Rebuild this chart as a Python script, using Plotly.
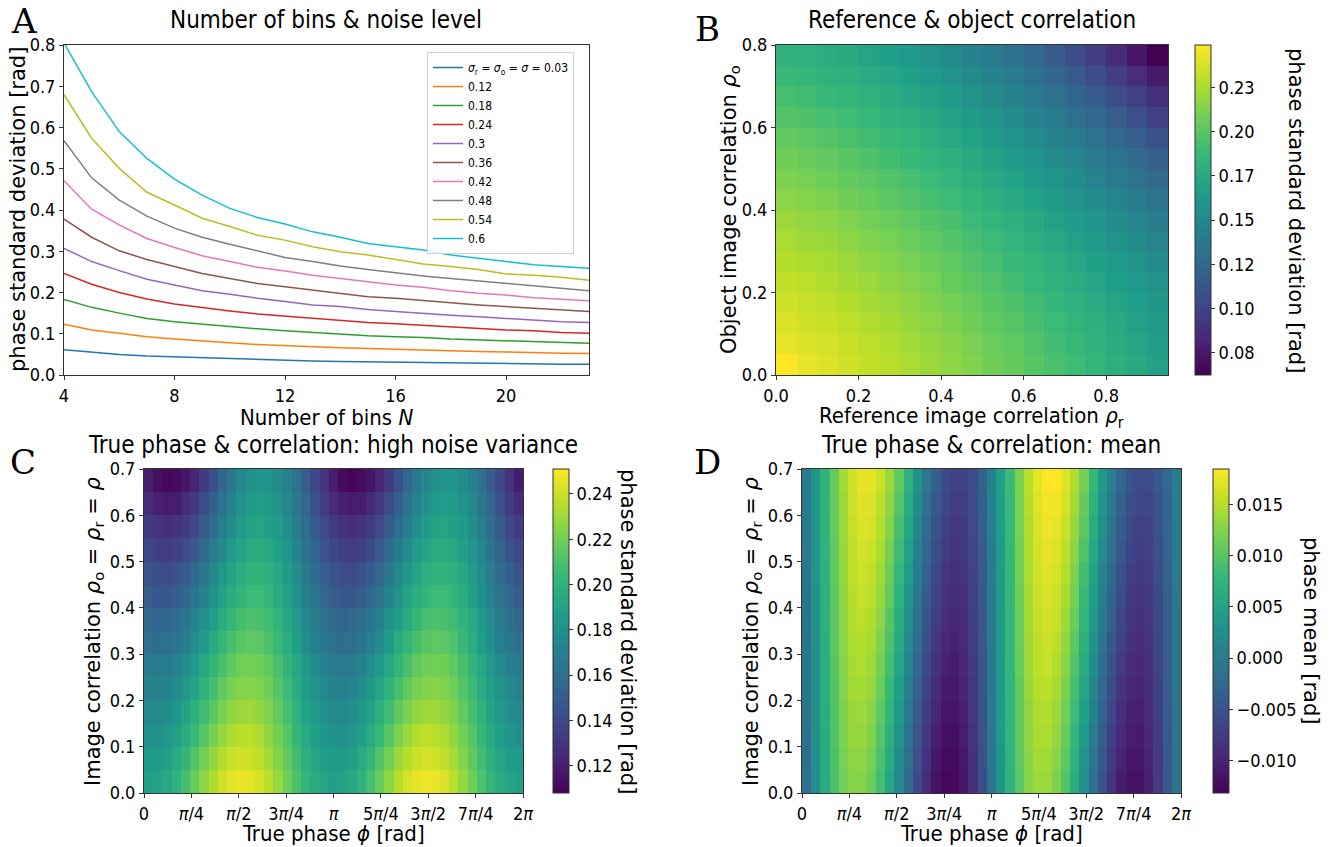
import math
import plotly.graph_objects as go

W, H = 1341, 847
FONT = "DejaVu Sans"
FONT_NARROW = "DejaVu Sans Condensed, DejaVu Sans"
AXIS_COLOR = "#333333"
TICK_SIZE = 18

# ---------------- Panel A: phase std vs number of bins ----------------
bins_n = [4, 5, 6, 7, 8, 9, 10, 11, 12, 13, 14, 15, 16, 17, 18, 19, 20, 21, 22, 23]
noise_labels = ["<i>σ</i><sub>r</sub> = <i>σ</i><sub>o</sub> = <i>σ</i> = 0.03",
                "0.12", "0.18", "0.24", "0.3", "0.36", "0.42", "0.48", "0.54", "0.6"]
std_sigma_003 = [0.061, 0.055, 0.050, 0.046, 0.044, 0.041, 0.039, 0.037, 0.036, 0.034,
                 0.033, 0.032, 0.031, 0.030, 0.029, 0.028, 0.0275, 0.027, 0.026, 0.026]
std_sigma_012 = [0.123, 0.109, 0.101, 0.093, 0.087, 0.082, 0.078, 0.074, 0.071, 0.069,
                 0.066, 0.064, 0.062, 0.061, 0.058, 0.057, 0.056, 0.054, 0.053, 0.052]
std_sigma_018 = [0.183, 0.164, 0.150, 0.137, 0.129, 0.123, 0.117, 0.112, 0.107, 0.103,
                 0.099, 0.095, 0.093, 0.091, 0.087, 0.085, 0.083, 0.081, 0.079, 0.077]
std_sigma_024 = [0.246, 0.220, 0.200, 0.184, 0.172, 0.163, 0.155, 0.148, 0.143, 0.137,
                 0.133, 0.127, 0.124, 0.120, 0.116, 0.112, 0.109, 0.107, 0.103, 0.101]
std_sigma_030 = [0.307, 0.275, 0.253, 0.232, 0.218, 0.204, 0.196, 0.186, 0.178, 0.170,
                 0.166, 0.159, 0.154, 0.149, 0.145, 0.141, 0.137, 0.133, 0.129, 0.127]
std_sigma_036 = [0.378, 0.334, 0.301, 0.280, 0.263, 0.246, 0.234, 0.222, 0.214, 0.206,
                 0.198, 0.190, 0.186, 0.180, 0.175, 0.170, 0.166, 0.162, 0.158, 0.154]
std_sigma_042 = [0.471, 0.402, 0.364, 0.331, 0.309, 0.289, 0.275, 0.261, 0.252, 0.242,
                 0.234, 0.226, 0.218, 0.213, 0.204, 0.198, 0.194, 0.187, 0.183, 0.180]
std_sigma_048 = [0.568, 0.478, 0.424, 0.385, 0.356, 0.334, 0.317, 0.301, 0.285, 0.275,
                 0.264, 0.256, 0.248, 0.240, 0.234, 0.228, 0.222, 0.217, 0.210, 0.204]
std_sigma_054 = [0.680, 0.574, 0.501, 0.443, 0.412, 0.380, 0.360, 0.339, 0.327, 0.311,
                 0.299, 0.291, 0.280, 0.269, 0.263, 0.256, 0.245, 0.242, 0.237, 0.230]
std_sigma_060 = [0.805, 0.687, 0.590, 0.525, 0.475, 0.436, 0.404, 0.382, 0.366, 0.347,
                 0.334, 0.319, 0.311, 0.303, 0.291, 0.283, 0.275, 0.267, 0.263, 0.259]
std_curves = [std_sigma_003, std_sigma_012, std_sigma_018, std_sigma_024, std_sigma_030,
              std_sigma_036, std_sigma_042, std_sigma_048, std_sigma_054, std_sigma_060]
line_colors = ["#1f77b4", "#ff7f0e", "#2ca02c", "#d62728", "#9467bd",
               "#8c564b", "#e377c2", "#7f7f7f", "#bcbd22", "#17becf"]

# ---------------- Panel B: reference vs object correlation ----------------
rho_r = [0.025, 0.075, 0.125, 0.175, 0.225, 0.275, 0.325, 0.375, 0.425, 0.475,
         0.525, 0.575, 0.625, 0.675, 0.725, 0.775, 0.825, 0.875, 0.925]
rho_o = [0.025, 0.075, 0.125, 0.175, 0.225, 0.275, 0.325, 0.375,
         0.425, 0.475, 0.525, 0.575, 0.625, 0.675, 0.725, 0.775]
std_ref_obj = [
    [0.249, 0.243, 0.239, 0.236, 0.232, 0.229, 0.225, 0.221, 0.217, 0.213, 0.208, 0.204, 0.199, 0.195, 0.190, 0.185, 0.180, 0.175, 0.169],
    [0.243, 0.239, 0.237, 0.234, 0.230, 0.227, 0.223, 0.219, 0.215, 0.211, 0.206, 0.202, 0.197, 0.192, 0.188, 0.183, 0.177, 0.172, 0.167],
    [0.239, 0.236, 0.234, 0.231, 0.227, 0.224, 0.220, 0.216, 0.212, 0.208, 0.203, 0.199, 0.194, 0.189, 0.185, 0.180, 0.175, 0.169, 0.164],
    [0.236, 0.233, 0.231, 0.228, 0.224, 0.221, 0.217, 0.213, 0.209, 0.205, 0.200, 0.196, 0.191, 0.186, 0.181, 0.176, 0.171, 0.166, 0.161],
    [0.232, 0.230, 0.227, 0.224, 0.221, 0.217, 0.214, 0.210, 0.205, 0.201, 0.197, 0.192, 0.187, 0.183, 0.178, 0.173, 0.167, 0.162, 0.157],
    [0.228, 0.226, 0.224, 0.221, 0.217, 0.214, 0.210, 0.206, 0.202, 0.197, 0.193, 0.188, 0.184, 0.179, 0.174, 0.168, 0.163, 0.158, 0.152],
    [0.225, 0.222, 0.220, 0.217, 0.213, 0.210, 0.206, 0.202, 0.198, 0.193, 0.189, 0.184, 0.179, 0.174, 0.169, 0.164, 0.158, 0.153, 0.147],
    [0.221, 0.218, 0.216, 0.213, 0.209, 0.206, 0.202, 0.198, 0.194, 0.189, 0.184, 0.180, 0.175, 0.169, 0.164, 0.159, 0.153, 0.147, 0.141],
    [0.216, 0.214, 0.211, 0.208, 0.205, 0.201, 0.197, 0.193, 0.189, 0.185, 0.180, 0.175, 0.170, 0.164, 0.159, 0.153, 0.147, 0.141, 0.134],
    [0.212, 0.210, 0.207, 0.204, 0.201, 0.197, 0.193, 0.189, 0.184, 0.180, 0.175, 0.170, 0.164, 0.159, 0.153, 0.147, 0.140, 0.134, 0.127],
    [0.208, 0.205, 0.203, 0.200, 0.196, 0.192, 0.188, 0.184, 0.180, 0.175, 0.170, 0.164, 0.159, 0.153, 0.147, 0.140, 0.133, 0.126, 0.119],
    [0.203, 0.201, 0.198, 0.195, 0.191, 0.188, 0.184, 0.179, 0.174, 0.170, 0.164, 0.159, 0.153, 0.146, 0.140, 0.133, 0.125, 0.118, 0.109],
    [0.198, 0.196, 0.193, 0.190, 0.187, 0.183, 0.179, 0.174, 0.169, 0.164, 0.159, 0.153, 0.146, 0.140, 0.132, 0.125, 0.117, 0.108, 0.099],
    [0.193, 0.191, 0.188, 0.185, 0.182, 0.178, 0.173, 0.169, 0.164, 0.158, 0.152, 0.146, 0.139, 0.132, 0.124, 0.116, 0.107, 0.098, 0.088],
    [0.188, 0.186, 0.183, 0.180, 0.177, 0.173, 0.168, 0.163, 0.158, 0.152, 0.146, 0.140, 0.132, 0.124, 0.116, 0.107, 0.097, 0.087, 0.076],
    [0.183, 0.181, 0.178, 0.175, 0.171, 0.167, 0.163, 0.158, 0.152, 0.146, 0.140, 0.132, 0.125, 0.116, 0.107, 0.097, 0.086, 0.074, 0.062],
]

# ---------------- Panels C and D: true phase vs correlation ----------------
rho_rows = [0.025, 0.075, 0.125, 0.175, 0.225, 0.275, 0.325,
            0.375, 0.425, 0.475, 0.525, 0.575, 0.625, 0.675]
phase_ticks = ["0", "<i>π</i>/4", "<i>π</i>/2", "3<i>π</i>/4", "<i>π</i>",
               "5<i>π</i>/4", "3<i>π</i>/2", "7<i>π</i>/4", "2<i>π</i>"]

std_phase_rho = [
    [0.189, 0.190, 0.194, 0.200, 0.208, 0.217, 0.226, 0.234, 0.241, 0.245, 0.247, 0.246, 0.242, 0.236, 0.228, 0.219, 0.210, 0.202, 0.195, 0.191,
     0.189, 0.190, 0.194, 0.200, 0.208, 0.217, 0.226, 0.235, 0.242, 0.246, 0.248, 0.247, 0.243, 0.236, 0.228, 0.219, 0.210, 0.202, 0.195, 0.191, 0.189],
    [0.185, 0.186, 0.189, 0.195, 0.202, 0.211, 0.220, 0.228, 0.234, 0.239, 0.241, 0.240, 0.237, 0.231, 0.224, 0.215, 0.207, 0.198, 0.192, 0.187,
     0.185, 0.186, 0.189, 0.195, 0.202, 0.211, 0.220, 0.229, 0.235, 0.240, 0.242, 0.241, 0.237, 0.231, 0.224, 0.215, 0.207, 0.198, 0.192, 0.187, 0.185],
    [0.180, 0.180, 0.183, 0.189, 0.196, 0.204, 0.213, 0.221, 0.228, 0.233, 0.236, 0.236, 0.233, 0.227, 0.220, 0.212, 0.203, 0.195, 0.188, 0.183,
     0.180, 0.180, 0.183, 0.189, 0.196, 0.204, 0.213, 0.222, 0.229, 0.234, 0.237, 0.236, 0.233, 0.227, 0.220, 0.212, 0.203, 0.195, 0.188, 0.183, 0.180],
    [0.176, 0.176, 0.179, 0.183, 0.190, 0.198, 0.206, 0.214, 0.221, 0.227, 0.229, 0.230, 0.227, 0.223, 0.216, 0.208, 0.200, 0.191, 0.184, 0.179,
     0.176, 0.176, 0.179, 0.183, 0.190, 0.198, 0.206, 0.215, 0.222, 0.227, 0.230, 0.230, 0.227, 0.223, 0.216, 0.208, 0.200, 0.191, 0.184, 0.179, 0.176],
    [0.172, 0.171, 0.173, 0.177, 0.184, 0.192, 0.200, 0.208, 0.215, 0.221, 0.224, 0.225, 0.223, 0.219, 0.212, 0.205, 0.196, 0.188, 0.181, 0.175,
     0.172, 0.171, 0.173, 0.177, 0.184, 0.192, 0.200, 0.208, 0.216, 0.221, 0.224, 0.225, 0.223, 0.219, 0.212, 0.205, 0.196, 0.188, 0.181, 0.175, 0.172],
    [0.167, 0.166, 0.167, 0.171, 0.178, 0.185, 0.194, 0.202, 0.209, 0.215, 0.219, 0.220, 0.219, 0.215, 0.209, 0.201, 0.193, 0.184, 0.177, 0.171,
     0.167, 0.166, 0.167, 0.171, 0.178, 0.185, 0.194, 0.202, 0.209, 0.215, 0.219, 0.220, 0.219, 0.215, 0.209, 0.201, 0.193, 0.184, 0.177, 0.171, 0.167],
    [0.161, 0.159, 0.160, 0.164, 0.170, 0.177, 0.186, 0.195, 0.203, 0.209, 0.213, 0.215, 0.214, 0.210, 0.204, 0.197, 0.188, 0.179, 0.171, 0.165,
     0.161, 0.159, 0.160, 0.164, 0.170, 0.177, 0.186, 0.195, 0.203, 0.209, 0.213, 0.215, 0.214, 0.210, 0.204, 0.197, 0.188, 0.179, 0.171, 0.165, 0.161],
    [0.156, 0.154, 0.155, 0.158, 0.164, 0.171, 0.180, 0.188, 0.196, 0.203, 0.208, 0.210, 0.209, 0.206, 0.201, 0.193, 0.185, 0.176, 0.168, 0.161,
     0.156, 0.154, 0.155, 0.158, 0.164, 0.171, 0.180, 0.188, 0.196, 0.203, 0.208, 0.210, 0.209, 0.206, 0.201, 0.193, 0.185, 0.176, 0.168, 0.161, 0.156],
    [0.150, 0.147, 0.147, 0.150, 0.156, 0.163, 0.172, 0.181, 0.190, 0.197, 0.202, 0.205, 0.205, 0.202, 0.196, 0.189, 0.180, 0.171, 0.163, 0.155,
     0.150, 0.147, 0.147, 0.150, 0.156, 0.163, 0.172, 0.181, 0.190, 0.197, 0.202, 0.205, 0.205, 0.202, 0.196, 0.189, 0.180, 0.171, 0.163, 0.155, 0.150],
    [0.145, 0.142, 0.141, 0.144, 0.149, 0.156, 0.165, 0.175, 0.184, 0.191, 0.197, 0.200, 0.201, 0.198, 0.193, 0.186, 0.177, 0.168, 0.159, 0.151,
     0.145, 0.142, 0.141, 0.144, 0.149, 0.156, 0.165, 0.175, 0.184, 0.191, 0.197, 0.200, 0.201, 0.198, 0.193, 0.186, 0.177, 0.168, 0.159, 0.151, 0.145],
    [0.139, 0.135, 0.134, 0.136, 0.141, 0.148, 0.157, 0.167, 0.176, 0.185, 0.191, 0.195, 0.196, 0.194, 0.189, 0.182, 0.173, 0.163, 0.154, 0.145,
     0.139, 0.135, 0.134, 0.136, 0.141, 0.148, 0.157, 0.167, 0.176, 0.185, 0.191, 0.195, 0.196, 0.194, 0.189, 0.182, 0.173, 0.163, 0.154, 0.145, 0.139],
    [0.133, 0.129, 0.127, 0.129, 0.133, 0.140, 0.149, 0.159, 0.169, 0.178, 0.185, 0.190, 0.191, 0.189, 0.185, 0.178, 0.169, 0.159, 0.149, 0.140,
     0.133, 0.129, 0.127, 0.129, 0.133, 0.140, 0.149, 0.159, 0.169, 0.178, 0.185, 0.190, 0.191, 0.189, 0.185, 0.178, 0.169, 0.159, 0.149, 0.140, 0.133],
    [0.126, 0.121, 0.119, 0.120, 0.125, 0.132, 0.141, 0.151, 0.162, 0.172, 0.180, 0.185, 0.187, 0.186, 0.181, 0.174, 0.165, 0.155, 0.144, 0.134,
     0.126, 0.121, 0.119, 0.120, 0.125, 0.132, 0.141, 0.151, 0.162, 0.172, 0.180, 0.185, 0.187, 0.186, 0.181, 0.174, 0.165, 0.155, 0.144, 0.134, 0.126],
    [0.120, 0.114, 0.111, 0.112, 0.116, 0.123, 0.133, 0.143, 0.155, 0.165, 0.174, 0.180, 0.183, 0.182, 0.178, 0.171, 0.162, 0.150, 0.139, 0.129,
     0.120, 0.113, 0.110, 0.112, 0.116, 0.123, 0.133, 0.143, 0.155, 0.165, 0.174, 0.180, 0.183, 0.182, 0.178, 0.171, 0.162, 0.150, 0.139, 0.129, 0.120],
]

mean_phase_rho = [
    [-0.0016, 0.0024, 0.0062, 0.0093, 0.0116, 0.0127, 0.0126, 0.0112, 0.0088, 0.0055, 0.0016, -0.0024, -0.0062, -0.0093, -0.0116, -0.0127, -0.0126, -0.0112, -0.0088, -0.0055,
     -0.0006, 0.0034, 0.0072, 0.0103, 0.0126, 0.0137, 0.0136, 0.0122, 0.0098, 0.0065, 0.0026, -0.0014, -0.0052, -0.0083, -0.0106, -0.0117, -0.0116, -0.0102, -0.0078, -0.0045, -0.0011],
    [-0.0015, 0.0025, 0.0063, 0.0095, 0.0118, 0.0131, 0.0130, 0.0118, 0.0094, 0.0061, 0.0023, -0.0017, -0.0055, -0.0087, -0.0110, -0.0123, -0.0122, -0.0110, -0.0086, -0.0053,
     -0.0005, 0.0035, 0.0073, 0.0105, 0.0128, 0.0141, 0.0140, 0.0128, 0.0104, 0.0071, 0.0033, -0.0007, -0.0045, -0.0077, -0.0100, -0.0113, -0.0112, -0.0100, -0.0076, -0.0043, -0.0010],
    [-0.0014, 0.0026, 0.0064, 0.0097, 0.0121, 0.0134, 0.0135, 0.0123, 0.0100, 0.0068, 0.0030, -0.0010, -0.0048, -0.0081, -0.0105, -0.0118, -0.0119, -0.0107, -0.0084, -0.0052,
     -0.0004, 0.0036, 0.0074, 0.0107, 0.0131, 0.0144, 0.0145, 0.0133, 0.0110, 0.0078, 0.0040, 0.0000, -0.0038, -0.0071, -0.0095, -0.0108, -0.0109, -0.0097, -0.0074, -0.0042, -0.0009],
    [-0.0013, 0.0026, 0.0065, 0.0098, 0.0122, 0.0136, 0.0138, 0.0128, 0.0106, 0.0075, 0.0037, -0.0002, -0.0041, -0.0074, -0.0098, -0.0112, -0.0114, -0.0104, -0.0082, -0.0051,
     -0.0003, 0.0036, 0.0075, 0.0108, 0.0132, 0.0146, 0.0148, 0.0138, 0.0116, 0.0085, 0.0047, 0.0008, -0.0031, -0.0064, -0.0088, -0.0102, -0.0104, -0.0094, -0.0072, -0.0041, -0.0008],
    [-0.0012, 0.0027, 0.0066, 0.0099, 0.0125, 0.0140, 0.0142, 0.0133, 0.0112, 0.0081, 0.0044, 0.0005, -0.0034, -0.0067, -0.0093, -0.0108, -0.0110, -0.0101, -0.0080, -0.0049,
     -0.0002, 0.0037, 0.0076, 0.0109, 0.0135, 0.0150, 0.0152, 0.0143, 0.0122, 0.0091, 0.0054, 0.0015, -0.0024, -0.0057, -0.0083, -0.0098, -0.0100, -0.0091, -0.0070, -0.0039, -0.0007],
    [-0.0012, 0.0028, 0.0067, 0.0101, 0.0127, 0.0143, 0.0147, 0.0138, 0.0118, 0.0088, 0.0052, 0.0012, -0.0027, -0.0061, -0.0087, -0.0103, -0.0107, -0.0098, -0.0078, -0.0048,
     -0.0002, 0.0038, 0.0077, 0.0111, 0.0137, 0.0153, 0.0157, 0.0148, 0.0128, 0.0098, 0.0062, 0.0022, -0.0017, -0.0051, -0.0077, -0.0093, -0.0097, -0.0088, -0.0068, -0.0038, -0.0007],
    [-0.0010, 0.0029, 0.0067, 0.0102, 0.0129, 0.0145, 0.0150, 0.0142, 0.0123, 0.0094, 0.0058, 0.0019, -0.0019, -0.0054, -0.0081, -0.0097, -0.0102, -0.0094, -0.0075, -0.0046,
     0.0000, 0.0039, 0.0077, 0.0112, 0.0139, 0.0155, 0.0160, 0.0152, 0.0133, 0.0104, 0.0068, 0.0029, -0.0009, -0.0044, -0.0071, -0.0087, -0.0092, -0.0084, -0.0065, -0.0036, -0.0005],
    [-0.0009, 0.0030, 0.0068, 0.0103, 0.0131, 0.0148, 0.0154, 0.0147, 0.0129, 0.0101, 0.0065, 0.0026, -0.0012, -0.0047, -0.0075, -0.0092, -0.0098, -0.0091, -0.0073, -0.0045,
     0.0001, 0.0040, 0.0078, 0.0113, 0.0141, 0.0158, 0.0164, 0.0157, 0.0139, 0.0111, 0.0075, 0.0036, -0.0002, -0.0037, -0.0065, -0.0082, -0.0088, -0.0081, -0.0063, -0.0035, -0.0004],
    [-0.0008, 0.0030, 0.0069, 0.0104, 0.0132, 0.0150, 0.0157, 0.0151, 0.0134, 0.0107, 0.0072, 0.0034, -0.0005, -0.0040, -0.0068, -0.0086, -0.0093, -0.0087, -0.0070, -0.0043,
     0.0002, 0.0040, 0.0079, 0.0114, 0.0142, 0.0160, 0.0167, 0.0161, 0.0144, 0.0117, 0.0082, 0.0044, 0.0005, -0.0030, -0.0058, -0.0076, -0.0083, -0.0077, -0.0060, -0.0033, -0.0003],
    [-0.0007, 0.0031, 0.0070, 0.0106, 0.0134, 0.0153, 0.0161, 0.0156, 0.0140, 0.0113, 0.0079, 0.0041, 0.0002, -0.0034, -0.0062, -0.0081, -0.0089, -0.0084, -0.0068, -0.0041,
     0.0003, 0.0041, 0.0080, 0.0116, 0.0144, 0.0163, 0.0171, 0.0166, 0.0150, 0.0123, 0.0089, 0.0051, 0.0012, -0.0024, -0.0052, -0.0071, -0.0079, -0.0074, -0.0058, -0.0031, -0.0002],
    [-0.0006, 0.0032, 0.0071, 0.0106, 0.0136, 0.0155, 0.0164, 0.0160, 0.0145, 0.0119, 0.0086, 0.0048, 0.0009, -0.0026, -0.0056, -0.0075, -0.0084, -0.0080, -0.0065, -0.0039,
     0.0004, 0.0042, 0.0081, 0.0116, 0.0146, 0.0165, 0.0174, 0.0170, 0.0155, 0.0129, 0.0096, 0.0058, 0.0019, -0.0016, -0.0046, -0.0065, -0.0074, -0.0070, -0.0055, -0.0029, -0.0001],
    [-0.0004, 0.0033, 0.0072, 0.0108, 0.0137, 0.0158, 0.0168, 0.0165, 0.0150, 0.0125, 0.0092, 0.0055, 0.0016, -0.0020, -0.0049, -0.0070, -0.0080, -0.0077, -0.0062, -0.0037,
     0.0006, 0.0043, 0.0082, 0.0118, 0.0147, 0.0168, 0.0178, 0.0175, 0.0160, 0.0135, 0.0102, 0.0065, 0.0026, -0.0010, -0.0039, -0.0060, -0.0070, -0.0067, -0.0052, -0.0027, 0.0001],
    [-0.0003, 0.0034, 0.0073, 0.0109, 0.0139, 0.0160, 0.0170, 0.0169, 0.0155, 0.0131, 0.0099, 0.0062, 0.0023, -0.0013, -0.0043, -0.0064, -0.0074, -0.0073, -0.0059, -0.0035,
     0.0007, 0.0044, 0.0083, 0.0119, 0.0149, 0.0170, 0.0180, 0.0179, 0.0165, 0.0141, 0.0109, 0.0072, 0.0033, -0.0003, -0.0033, -0.0054, -0.0064, -0.0063, -0.0049, -0.0025, 0.0002],
    [-0.0002, 0.0035, 0.0074, 0.0110, 0.0141, 0.0163, 0.0174, 0.0173, 0.0160, 0.0137, 0.0106, 0.0069, 0.0030, -0.0006, -0.0037, -0.0059, -0.0070, -0.0069, -0.0056, -0.0033,
     0.0008, 0.0045, 0.0084, 0.0120, 0.0151, 0.0173, 0.0184, 0.0183, 0.0170, 0.0147, 0.0116, 0.0079, 0.0040, 0.0004, -0.0027, -0.0049, -0.0060, -0.0059, -0.0046, -0.0023, 0.0003],
]

# ---------------- helpers: pixel positions -> paper coordinates ----------------
def fx(px):
    return px / W


def fy(py):
    return 1 - py / H


def dom_x(left, right):
    return [fx(left), fx(right)]


def dom_y(top, bottom):
    return [fy(bottom), fy(top)]


axis_common = dict(showline=True, mirror=True, linecolor=AXIS_COLOR, linewidth=1,
                   ticks="outside", ticklen=4, tickwidth=1, tickcolor=AXIS_COLOR,
                   showgrid=False, zeroline=False, automargin=False,
                   tickfont=dict(family=FONT_NARROW, size=TICK_SIZE, color="black"))


def colorbar(left, top, bottom, tickvals, ticktext):
    return dict(x=fx(left), xanchor="left", xref="paper",
                y=fy(bottom), yanchor="bottom", yref="paper",
                len=(bottom - top) / H, lenmode="fraction",
                thickness=16, thicknessmode="pixels", xpad=0, ypad=0,
                outlinewidth=1, outlinecolor=AXIS_COLOR,
                ticks="outside", ticklen=4, tickcolor=AXIS_COLOR,
                tickvals=tickvals, ticktext=ticktext,
                tickfont=dict(family=FONT_NARROW, size=TICK_SIZE, color="black"))


fig = go.Figure()

# Panel A lines
for label, ys, color in zip(noise_labels, std_curves, line_colors):
    fig.add_trace(go.Scatter(x=bins_n, y=ys, mode="lines", name=label,
                             line=dict(color=color, width=1.5),
                             xaxis="x", yaxis="y"))

# Panel B heatmap
fig.add_trace(go.Heatmap(
    x=rho_r, y=rho_o, z=std_ref_obj, colorscale="Viridis",
    zmin=0.0625, zmax=0.249, xaxis="x2", yaxis="y2",
    colorbar=colorbar(1195, 45, 375,
                      [0.075, 0.1, 0.125, 0.15, 0.175, 0.2, 0.225],
                      ["0.08", "0.10", "0.12", "0.15", "0.17", "0.20", "0.23"]),
    showlegend=False))

# Panel C heatmap
n_cols = len(std_phase_rho[0])
fig.add_trace(go.Heatmap(
    z=std_phase_rho, x0=math.pi / n_cols, dx=2 * math.pi / n_cols,
    y0=rho_rows[0], dy=rho_rows[1] - rho_rows[0],
    colorscale="Viridis", zmin=0.108, zmax=0.251, xaxis="x3", yaxis="y3",
    colorbar=colorbar(553, 469, 793,
                      [0.12, 0.14, 0.16, 0.18, 0.20, 0.22, 0.24],
                      ["0.12", "0.14", "0.16", "0.18", "0.20", "0.22", "0.24"]),
    showlegend=False))

# Panel D heatmap
fig.add_trace(go.Heatmap(
    z=mean_phase_rho, x0=math.pi / n_cols, dx=2 * math.pi / n_cols,
    y0=rho_rows[0], dy=rho_rows[1] - rho_rows[0],
    colorscale="Viridis", zmin=-0.0132, zmax=0.0185, xaxis="x4", yaxis="y4",
    colorbar=colorbar(1213, 469, 793,
                      [-0.010, -0.005, 0.0, 0.005, 0.010, 0.015],
                      ["−0.010", "−0.005", "0.000", "0.005", "0.010", "0.015"]),
    showlegend=False))

phase_tickvals = [k * math.pi / 4 for k in range(9)]

layout_axes = dict(
    xaxis=dict(domain=dom_x(64, 589), range=[4, 23], tickvals=[4, 8, 12, 16, 20],
               anchor="y", **axis_common),
    yaxis=dict(domain=dom_y(45, 375), range=[0, 0.8], dtick=0.1, tick0=0,
               tickformat=".1f", anchor="x", **axis_common),
    xaxis2=dict(domain=dom_x(776, 1168), range=[0, 0.95], dtick=0.2, tick0=0,
                tickformat=".1f", anchor="y2", **axis_common),
    yaxis2=dict(domain=dom_y(45, 375), range=[0, 0.8], dtick=0.2, tick0=0,
                tickformat=".1f", anchor="x2", **axis_common),
    xaxis3=dict(domain=dom_x(144, 523), range=[0, 2 * math.pi],
                tickvals=phase_tickvals, ticktext=phase_ticks, anchor="y3", **axis_common),
    yaxis3=dict(domain=dom_y(469, 793), range=[0, 0.7], dtick=0.1, tick0=0,
                tickformat=".1f", anchor="x3", **axis_common),
    xaxis4=dict(domain=dom_x(802, 1181), range=[0, 2 * math.pi],
                tickvals=phase_tickvals, ticktext=phase_ticks, anchor="y4", **axis_common),
    yaxis4=dict(domain=dom_y(469, 793), range=[0, 0.7], dtick=0.1, tick0=0,
                tickformat=".1f", anchor="x4", **axis_common),
)


def text(x, y, s, size, angle=0, family=FONT_NARROW):
    return dict(x=fx(x), y=fy(y), xref="paper", yref="paper", text=s,
                showarrow=False, textangle=angle, xanchor="center", yanchor="middle",
                font=dict(family=family, size=size, color="black"))


annotations = [
    # panel letters
    text(24, 21, "A", 34, family="DejaVu Serif"),
    text(707, 29, "B", 34, family="DejaVu Serif"),
    text(23, 462, "C", 34, family="DejaVu Serif"),
    text(707, 462, "D", 34, family="DejaVu Serif"),
    # titles
    text(326, 20, "Number of bins &amp; noise level", 24),
    text(972, 20, "Reference &amp; object correlation", 24),
    text(333, 445, "True phase &amp; correlation: high noise variance", 24),
    text(991, 445, "True phase &amp; correlation: mean", 24),
    # axis labels
    text(326, 418, "Number of bins <i>N</i>", 22),
    text(18, 210, "phase standard deviation [rad]", 21, angle=-90, family=FONT),
    text(972, 418, "Reference image correlation <i>ρ</i><sub>r</sub>", 22),
    text(730, 210, "Object image correlation <i>ρ</i><sub>o</sub>", 21, angle=-90, family=FONT),
    text(333, 833, "True phase <i>ϕ</i> [rad]", 22),
    text(94, 631, "Image correlation <i>ρ</i><sub>o</sub> = <i>ρ</i><sub>r</sub> = <i>ρ</i>", 21, angle=-90, family=FONT),
    text(991, 833, "True phase <i>ϕ</i> [rad]", 22),
    text(752, 631, "Image correlation <i>ρ</i><sub>o</sub> = <i>ρ</i><sub>r</sub> = <i>ρ</i>", 21, angle=-90, family=FONT),
    # colorbar labels
    text(1296, 210, "phase standard deviation [rad]", 21, angle=90, family=FONT),
    text(628, 631, "phase standard deviation [rad]", 21, angle=90, family=FONT),
    text(1311, 631, "phase mean [rad]", 21, angle=90, family=FONT),
]

fig.update_layout(
    width=W, height=H,
    margin=dict(l=0, r=0, t=0, b=0),
    paper_bgcolor="white", plot_bgcolor="white",
    font=dict(family=FONT_NARROW, size=TICK_SIZE, color="black"),
    legend=dict(x=fx(427), y=fy(52), xanchor="left", yanchor="top",
                bgcolor="rgba(255,255,255,0.85)", bordercolor="#d0d0d0", borderwidth=1,
                font=dict(family=FONT_NARROW, size=12, color="black"),
                tracegroupgap=0, itemwidth=30),
    annotations=annotations,
    **layout_axes,
)

fig.write_html("out.html")
